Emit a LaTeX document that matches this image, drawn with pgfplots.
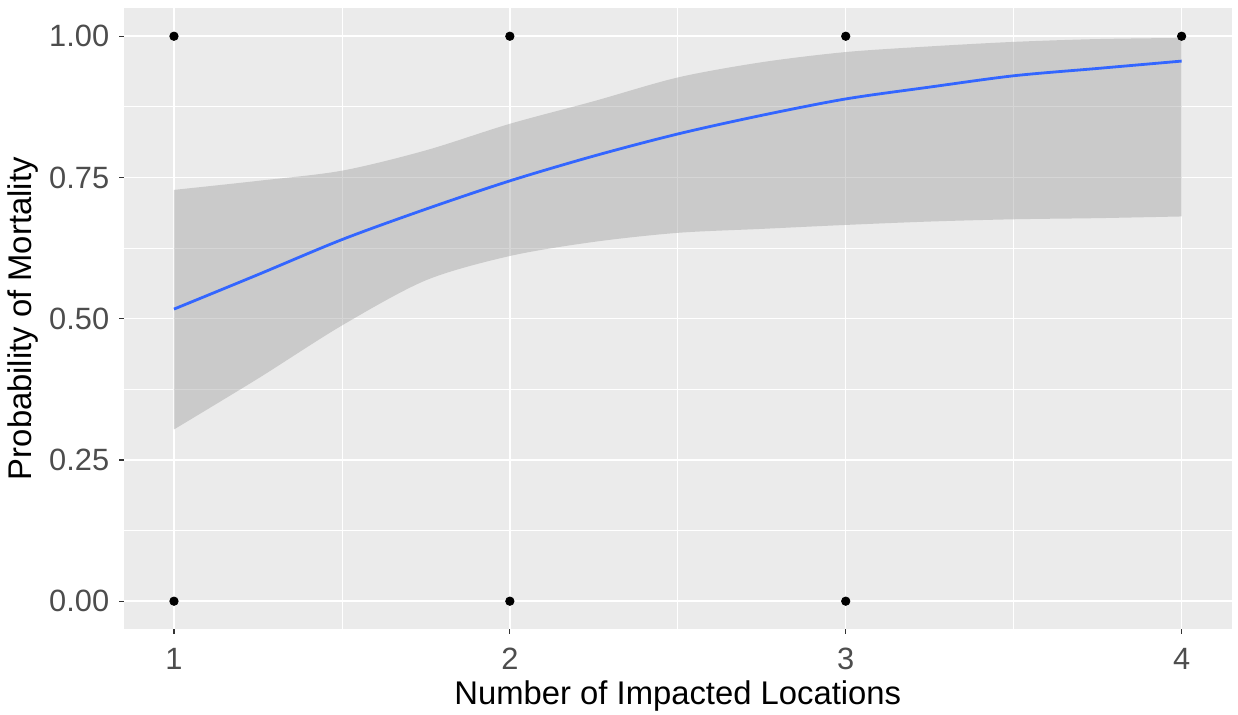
\documentclass[border=0pt]{standalone}
\usepackage{pgfplots}
\pgfplotsset{compat=1.18}
\usepackage{pgfplotstable}
\usepgfplotslibrary{fillbetween}
\usepackage{fontspec}
\setmainfont{Liberation Sans}
\definecolor{panel}{HTML}{EBEBEB}
\definecolor{ribbon}{HTML}{999999}
\definecolor{fitblue}{HTML}{3366FF}
\definecolor{ticktext}{HTML}{4D4D4D}
\definecolor{tickcol}{HTML}{333333}
\pgfplotstableread{
x fit lo hi
1.00 0.517 0.304 0.728
1.25 0.578 0.394 0.744
1.50 0.640 0.488 0.762
1.75 0.694 0.568 0.798
2.00 0.744 0.611 0.845
2.25 0.788 0.636 0.885
2.50 0.827 0.652 0.927
2.75 0.860 0.659 0.954
3.00 0.889 0.666 0.972
3.25 0.910 0.672 0.982
3.50 0.930 0.676 0.990
3.75 0.943 0.678 0.995
4.00 0.956 0.681 0.997
}\fitdata
\pgfplotstableread{
x y
1 1
1 0
2 1
2 0
3 1
3 0
4 1
}\pointdata
% tick marks (drawn through the axis)
\pgfplotstableread{
x y
1 -0.05
1 -0.0589
nan nan
2 -0.05
2 -0.0589
nan nan
3 -0.05
3 -0.0589
nan nan
4 -0.05
4 -0.0589
}\xticks
\pgfplotstableread{
x y
0.85 0
0.8351 0
nan nan
0.85 0.25
0.8351 0.25
nan nan
0.85 0.5
0.8351 0.5
nan nan
0.85 0.75
0.8351 0.75
nan nan
0.85 1
0.8351 1
}\yticks
\begin{document}
\begin{tikzpicture}
\begin{axis}[
  at={(0,0)}, anchor=south west,
  scale only axis,
  width=554.25pt, height=310.75pt,
  xmin=0.85, xmax=4.15, ymin=-0.05, ymax=1.05,
  axis background/.style={fill=panel},
  axis line style={draw=none},
  xtick={1,2,3,4}, xticklabels={1,2,3,4},
  ytick={0,0.25,0.5,0.75,1}, yticklabels={0.00,0.25,0.50,0.75,1.00},
  minor xtick={1.5,2.5,3.5},
  minor ytick={0.125,0.375,0.625,0.875},
  xtick pos=bottom, ytick pos=left,
  major tick length=0pt, minor tick length=0pt,
  grid=both,
  major grid style={white, line width=0.75pt},
  minor grid style={white, line width=0.4pt},
  ticklabel style={font=\fontsize{15.4}{18}\selectfont, text=ticktext, inner sep=0pt},
  xticklabel style={anchor=base, yshift=-19.9pt},
  yticklabel style={anchor=east, xshift=-7pt},
  xlabel={Number of Impacted Locations},
  ylabel={Probability of Mortality},
  label style={font=\fontsize{16.4}{19}\selectfont, text=black, inner sep=0pt},
  xlabel style={at={(axis description cs:0.5,-0.1215)}, anchor=base},
  ylabel style={at={(axis description cs:-0.0835,0.5)}, anchor=base, rotate=0},
  clip=false,
  unbounded coords=jump,
]
\addplot[name path=up, draw=none, forget plot, smooth] table[x=x, y=hi] {\fitdata};
\addplot[name path=lo, draw=none, forget plot, smooth] table[x=x, y=lo] {\fitdata};
\addplot[fill=ribbon, fill opacity=0.4, draw=none] fill between[of=up and lo];
\addplot[only marks, mark=*, mark size=2.1pt, black] table[x=x, y=y] {\pointdata};
\addplot[fitblue, line width=1.4pt, smooth] table[x=x, y=fit] {\fitdata};
\addplot[tickcol, line width=0.55pt, forget plot] table[x=x, y=y] {\xticks};
\addplot[tickcol, line width=0.55pt, forget plot] table[x=x, y=y] {\yticks};
\end{axis}
\pgfresetboundingbox
\path (-61.8pt,-42.75pt) rectangle (557.25pt,314.75pt);
\end{tikzpicture}
\end{document}
